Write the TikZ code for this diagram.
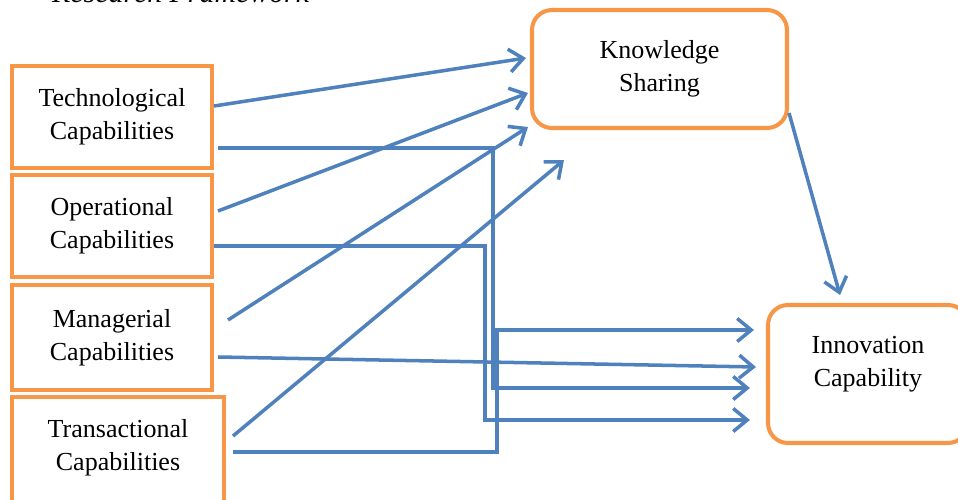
\documentclass[tikz,border=0pt]{standalone}
\usepackage{fontspec}
\setmainfont{Liberation Serif}
\usetikzlibrary{calc,arrows.meta}

\definecolor{boxorange}{RGB}{247,150,70}
\definecolor{lineblue}{RGB}{79,129,189}

\tikzset{
  capbox/.style={draw=boxorange,line width=2.3pt,minimum width=4cm,align=center,inner sep=0pt},
  mainbox/.style={draw=boxorange,line width=2.3pt,rounded corners=0.4cm,align=center,inner sep=0pt},
  link/.style={draw=lineblue,line width=2pt,-{Straight Barb[length=2.8mm,width=4.6mm]}},
}

\begin{document}
\begin{tikzpicture}[font=\fontsize{14.8}{18.8}\selectfont]
          \useasboundingbox (0,0) rectangle (19.16,9.98);
          \clip (0,0) rectangle (19.16,9.98);
          % title, cut at the top
          \node[anchor=base west,font=\fontsize{17}{20}\itshape] (title) at (0.92,9.93) {Research Framework};
          % capability boxes
          \node[capbox,minimum height=2.04cm] (tech) at (2.24,7.64) {Technological\\Capabilities};
          \node[capbox,minimum height=2.04cm] (oper) at (2.24,5.46) {Operational\\Capabilities};
          \node[capbox,minimum height=2.1cm] (mana) at (2.24,3.23) {Managerial\\Capabilities};
          \node[capbox,minimum width=4.24cm,minimum height=2.26cm] (trans) at (2.36,0.91) {};
          \node[align=center] (transtxt) at (2.36,1.02) {Transactional\\Capabilities};
          % mediator and outcome
          \node[mainbox,minimum width=5.1cm,minimum height=2.36cm] (ks) at (13.19,8.6) {Knowledge\\Sharing};
          \node[mainbox,minimum width=4cm,minimum height=2.76cm] (ic) at (17.36,2.5) {};
          \node[align=center] (ictxt) at (17.36,2.7) {Innovation\\Capability};
          \coordinate (ksgap) at ($(ks.south west)+(0.68,-0.6)$);
          % paths to knowledge sharing
          \draw[link] ([yshift=2.2mm]tech.east) -- ([shift={(-0.08,0.22)}]ks.west);
          \draw[link] ([shift={(0.08,0.3)}]oper.east) -- ([shift={(-0.04,-0.48)}]ks.west);
          \draw[link] ([shift={(0.28,0.35)}]mana.east) -- ([shift={(-0.04,0.06)}]ks.south west);
          \draw[link] ([shift={(0.14,0.35)}]trans.east) -- (ksgap);
          \draw[link] ([yshift=-8.8mm]ks.east) -- ([shift={(-0.56,0.16)}]ic.north);
          % direct paths to innovation capability
          \draw[link] ([shift={(0.08,-0.62)}]tech.east) -- ++(5.5,0) |- ([shift={(-0.32,-0.28)}]ic.west);
          \draw[link] ([yshift=-4mm]oper.east) -- ++(5.42,0) |- ([shift={(-0.32,-0.92)}]ic.west);
          \draw[link] ([shift={(0.08,-0.39)}]mana.east) -- ([shift={(-0.2,0.14)}]ic.west);
          \draw[link] ([shift={(0.14,0.03)}]trans.east) -- ++(5.28,0) |- ([shift={(-0.24,0.88)}]ic.west);
        \end{tikzpicture}
\end{document}
